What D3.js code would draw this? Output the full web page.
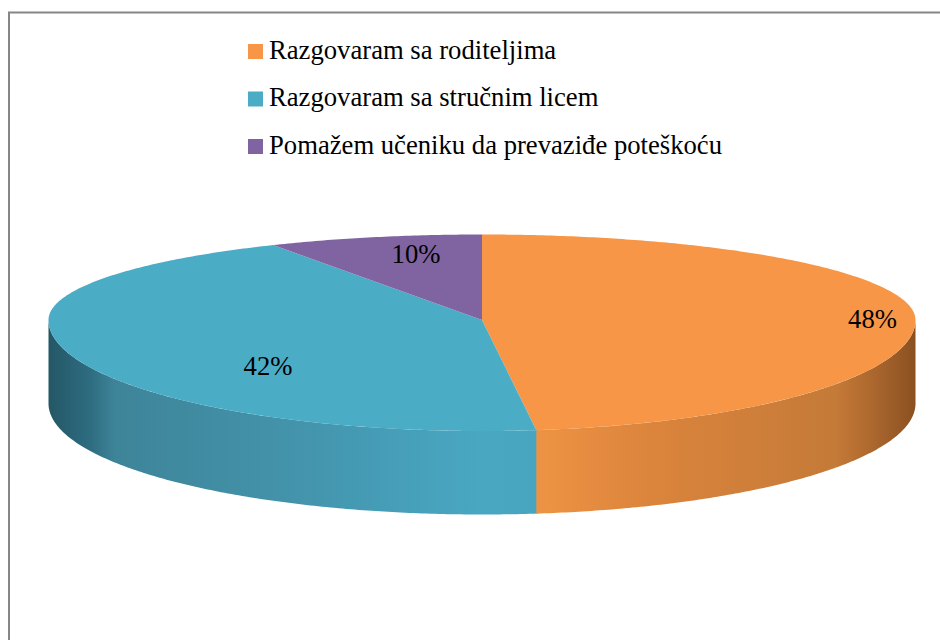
<!DOCTYPE html>
<html>
<head>
<meta charset="utf-8">
<script src="https://d3js.org/d3.v7.min.js"></script>
<style>
  html, body { margin: 0; padding: 0; background: #fff; }
  svg { display: block; }
  text { font-family: "Liberation Serif", serif; fill: #000; }
</style>
</head>
<body>
<div id="chart"></div>
<script>
var categories = ["Razgovaram sa roditeljima", "Razgovaram sa stručnim licem", "Pomažem učeniku da prevaziđe poteškoću"];
// printed labels
var percentLabels = ["48%", "42%", "10%"];
var sliceShares = [48, 44, 8];
var colors = ["#F79646", "#4BACC6", "#8064A2"];

var width = 940, height = 640;
var depth = 83.5;

var svg = d3.select("#chart").append("svg")
    .attr("width", width)
    .attr("height", height);

// frame, cut off by the right and bottom of the image
svg.append("path")
    .attr("d", "M9,640V12.5H940")
    .attr("fill", "none")
    .attr("stroke", "#868686")
    .attr("stroke-width", 2);

// the disc is tilted, the far half is flatter than the near half
var x = d3.scaleLinear().domain([-1, 1]).range([48.5, 915.5]);
var y = d3.scaleLinear().domain([-1, 0, 1]).range([234.5, 320, 431]);

var line = d3.line().x(d => x(Math.sin(d))).y(d => y(-Math.cos(d)));

function arcAngles(a0, a1) {
    var n = Math.max(2, Math.ceil((a1 - a0) / 0.01));
    return d3.range(n + 1).map(i => a0 + (a1 - a0) * i / n);
}

var slices = d3.pie().sort(null).value(d => d)(sliceShares);

// side wall gradients
var defs = svg.append("defs");
var wallStops = [
    [[536, "#ED9343"], [650, "#DB843C"], [836, "#C47A38"], [860, "#B56E30"], [885, "#A2612B"], [916, "#8A5020"]],
    [[48, "#245766"], [90, "#2E6C80"], [115, "#3E8499"], [300, "#4394AC"], [480, "#49A7C2"], [536, "#47A5C0"]],
    []
];

wallStops.forEach(function(stops, i) {
    if (!stops.length) return;
    var x0 = stops[0][0], x1 = stops[stops.length - 1][0];
    var g = defs.append("linearGradient")
        .attr("id", "wall" + i)
        .attr("gradientUnits", "userSpaceOnUse")
        .attr("x1", x0).attr("x2", x1)
        .attr("y1", 0).attr("y2", 0);
    stops.forEach(function(s) {
        g.append("stop")
            .attr("offset", (s[0] - x0) / (x1 - x0))
            .attr("stop-color", s[1]);
    });
});

// walls, only the near half of the disc shows one. drawn last slice first,
// each one runs a bit under the previous slice so no seam shows
slices.slice().reverse().forEach(function(s) {
    var i = s.index;
    var a0 = Math.max(s.startAngle - 0.004, Math.PI / 2);
    var a1 = Math.min(s.endAngle, Math.PI * 1.5);
    if (a1 <= a0) return;
    var pts = arcAngles(a0, a1);
    var edge = pts.map(d => [x(Math.sin(d)), y(-Math.cos(d))]);
    // lower edge is the same curve moved down by the wall height
    var wallPts = edge.concat(edge.slice().reverse().map(p => [p[0], p[1] + depth]));
    svg.append("path")
        .attr("d", d3.line()(wallPts) + "Z")
        .attr("fill", "url(#wall" + i + ")");
});

// top face
svg.append("g").selectAll("path")
    .data(slices)
    .enter()
    .append("path")
    .attr("d", d => line(arcAngles(d.startAngle, d.endAngle)) + "L" + x(0) + "," + y(0) + "Z")
    .attr("fill", (d, i) => colors[i]);

// data labels
var labelX = [872.5, 268, 416];
var labelY = [328, 375, 263];

svg.append("g").selectAll("text")
    .data(percentLabels)
    .enter()
    .append("text")
    .attr("x", (d, i) => labelX[i])
    .attr("y", (d, i) => labelY[i])
    .attr("text-anchor", "middle")
    .attr("font-size", 26.67)
    .text(d => d);

// legend
var legend = svg.append("g").selectAll("g")
    .data(categories)
    .enter()
    .append("g")
    .attr("transform", (d, i) => "translate(248," + (44 + i * 47.5) + ")");

legend.append("rect")
    .attr("width", 15)
    .attr("height", 15)
    .attr("fill", (d, i) => colors[i]);

legend.append("text")
    .attr("x", 21)
    .attr("y", 14.7)
    .attr("font-size", 26.67)
    .text(d => d);
</script>
</body>
</html>
